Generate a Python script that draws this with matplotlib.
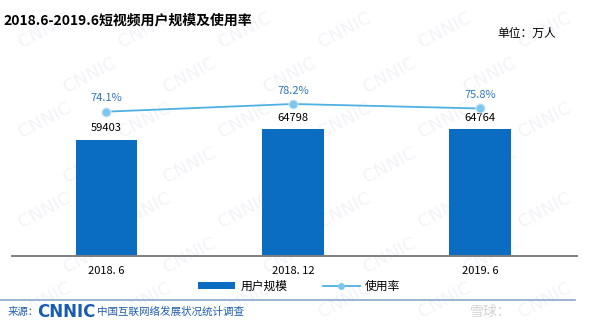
import numpy as np
import matplotlib.pyplot as plt
from matplotlib.lines import Line2D
from matplotlib.patches import Patch

plt.rcParams['font.family'] = ['Noto Sans CJK SC', 'DejaVu Sans']

periods = ['2018. 6', '2018. 12', '2019. 6']
users = [59403, 64798, 64764]          # 万人
usage_rate = [74.1, 78.2, 75.8]        # %

BAR_COLOR = '#0a6dc2'
LINE_COLOR = '#4fb0e4'
MARKER_COLOR = '#7fc6ef'
RATE_TEXT = '#2f78b8'

W, H = 592, 326
fig = plt.figure(figsize=(W / 100, H / 100), dpi=100)
fig.patch.set_facecolor('white')

# faint tiled watermark
bg = fig.add_axes([0, 0, 1, 1], zorder=-10)
bg.set_axis_off()
bg.set_xlim(0, W)
bg.set_ylim(H, 0)
for row, yy in enumerate(range(30, H - 20, 45)):
    for xx in range(45 + (row % 2) * 45, W - 40, 100):
        bg.text(xx, yy, 'CNNIC', rotation=28, fontsize=13,
                color='#f3f4f6', ha='center', va='center', family='DejaVu Sans')

# main axes: bars on the left scale, rate line on a twin scale
x = np.arange(len(periods))
ax = fig.add_axes([12 / W, (H - 256) / H, 565 / W, 196 / H])
ax.patch.set_alpha(0)
ax.bar(x, users, width=0.33, color=BAR_COLOR, zorder=2)
ax.set_xlim(-0.505, 2.52)
ax.set_ylim(0, 100000)
for xi, v in zip(x, users):
    ax.text(xi, v + 3200, f'{v}', ha='center', va='bottom', fontsize=8, color='black')

ax2 = ax.twinx()
ax2.plot(x, usage_rate, color=LINE_COLOR, lw=1.3, marker='o', ms=6.5,
         mfc=MARKER_COLOR, mec='#cfe9f8', mew=0.8, zorder=3)
ax2.set_ylim(-2.7, 101.6)
for xi, r in zip(x, usage_rate):
    ax2.text(xi, r + 4.5, f'{r}%', ha='center', va='bottom', fontsize=8, color=RATE_TEXT)

for a in (ax, ax2):
    for side in ('top', 'left', 'right'):
        a.spines[side].set_visible(False)
    a.set_yticks([])
ax2.spines['bottom'].set_visible(False)
ax.spines['bottom'].set_color('#7f7f7f')
ax.spines['bottom'].set_linewidth(1.4)
ax.set_xticks(x)
ax.set_xticklabels(periods, fontsize=8, family=['Noto Sans CJK SC', 'DejaVu Sans Mono'])
ax.tick_params(axis='x', length=0, pad=7)

handles = [Patch(facecolor=BAR_COLOR, label='用户规模'),
           Line2D([], [], color=LINE_COLOR, lw=1.3, marker='o', ms=4,
                  mfc=MARKER_COLOR, mec=MARKER_COLOR, label='使用率')]
fig.legend(handles=handles, loc='center', bbox_to_anchor=(299 / W, 1 - 286 / H),
           ncol=2, frameon=False, fontsize=8.5, handlelength=3.2, handleheight=0.55,
           columnspacing=3.0, handletextpad=0.4)

# titles
fig.text(3 / W, 1 - 21 / H, '2018.6-2019.6短视频用户规模及使用率', fontsize=10,
         fontweight='bold', va='center', ha='left', color='black')
fig.text(497 / W, 1 - 33 / H, '单位：万人', fontsize=8.5, va='center', ha='left', color='black')

# footer
fig.add_artist(Line2D([0, 575 / W], [1 - 300 / H, 1 - 300 / H], color='#8aa8cc', lw=1.2))
fig.text(8 / W, 1 - 312 / H, '来源：', fontsize=7.5, color='#1f5fae', va='center')
fig.text(37 / W, 1 - 312 / H, 'CNNIC', fontsize=12, fontweight='heavy', color='#1a5cb0',
         va='center', family='DejaVu Sans')
fig.text(97 / W, 1 - 312 / H, '中国互联网络发展状况统计调查', fontsize=7.6, color='#1f5fae', va='center')
fig.text(470 / W, 1 - 312 / H, '雪球：', fontsize=10, color='#d4d4d4', va='center')

fig.savefig('out.png', dpi=100, facecolor='white')
